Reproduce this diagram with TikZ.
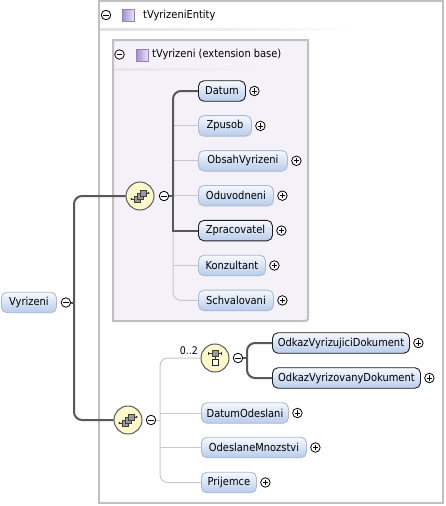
\documentclass[tikz,border=0pt]{standalone}
\usepackage{fontspec}
\setmainfont{DejaVu Sans Condensed}
\definecolor{bordergray}{RGB}{192,192,192}
\definecolor{lavender}{RGB}{244,242,248}
\definecolor{elemtop}{RGB}{246,249,254}
\definecolor{elembot}{RGB}{184,204,236}
\definecolor{optborder}{RGB}{172,186,208}
\definecolor{reqborder}{RGB}{30,30,30}
\definecolor{darkline}{RGB}{88,88,88}
\definecolor{lightline}{RGB}{200,200,200}
\definecolor{compfill}{RGB}{253,249,204}
\definecolor{compborder}{RGB}{90,90,90}
\definecolor{purpdark}{RGB}{165,145,208}
\definecolor{purplight}{RGB}{236,231,249}
\definecolor{purpborder}{RGB}{150,128,196}
\begin{document}
\begin{tikzpicture}[x=1pt,y=-1pt,
  every node/.style={font=\fontsize{11}{13}\selectfont},
  elem/.style={rounded corners=5.5pt, top color=elemtop, bottom color=elembot,
    minimum height=20.5pt, inner sep=0pt, anchor=west, line width=0.9pt},
  elemopt/.style={elem, draw=optborder},
  elemreq/.style={elem, draw=reqborder},
  pmcirc/.style={circle, draw=black, fill=white, minimum size=9.5pt, inner sep=0pt, line width=0.8pt},
  pluscirc/.style={pmcirc, path picture={
    \draw[line width=0.8pt] ([xshift=-2.6pt]path picture bounding box.center) -- ([xshift=2.6pt]path picture bounding box.center)
      ([yshift=-2.6pt]path picture bounding box.center) -- ([yshift=2.6pt]path picture bounding box.center);}},
  minuscirc/.style={pmcirc, path picture={
    \draw[line width=0.8pt] ([xshift=-2.6pt]path picture bounding box.center) -- ([xshift=2.6pt]path picture bounding box.center);}},
  compo/.style={circle, draw=compborder, fill=compfill, minimum size=28pt, inner sep=0pt, line width=1pt},
  dline/.style={draw=darkline, line width=2pt},
  lline/.style={draw=lightline, line width=1pt},
  typesq/.style={left color=purpdark, right color=purplight, draw=purpborder, line width=0.6pt},
  hdr/.style={anchor=west, inner sep=0pt},
  iconsq/.style={fill=black!40, draw=black!75, line width=0.6pt}
]
\useasboundingbox (0,0) rectangle (446,506);

% outer box
\draw[bordergray, line width=2pt, fill=white] (99,1) rectangle (443,503);
\shade[left color=black!12, right color=white] (100,28.5) rectangle (360,30);
\node[minuscirc] (mo) at (106,15) {};
\shade[typesq] (122.5,9) rectangle (134.5,21);
\node[hdr] (ho) at (143,15) {tVyrizeniEntity};

% inner box
\draw[bordergray, line width=2pt, fill=lavender] (113,40) -- (308,40) -- (308,315)
   .. controls (308,321) .. (302,321) -- (113,321) -- cycle;
\shade[left color=black!10, right color=lavender] (114,68.5) rectangle (263,70);
\node[minuscirc] (mi) at (119.5,54.5) {};
\shade[typesq] (136.5,49) rectangle (148.5,61);
\node[hdr] (hi) at (152,54.5) {tVyrizeni (extension base)};

% root element
\node[elemopt, minimum width=55pt] (vyr) at (1,302.5) {Vyrizeni};
\node[minuscirc] (m0) at ([xshift=9pt]vyr.east) {};
\coordinate (j0) at (74,302.5);

% compositors
\node[compo] (c1) at (140,196) {};
\node[minuscirc] (m1) at (164,196) {};
\coordinate (j1) at (173,196);
\node[compo] (c2) at (128,420) {};
\node[minuscirc] (m2) at (151,420) {};
\coordinate (j2) at (160,420);
\node[compo] (c3) at (215,358) {};
\node[minuscirc] (m3) at (238,358) {};
\coordinate (j3) at (247,358);
\node[anchor=east, inner sep=0pt, font=\fontsize{10.5}{12}\selectfont] (card) at (198,351) {0..2};

% sequence icons
\foreach \c in {c1,c2}{
\begin{scope}[shift={(\c.center)}]
  \draw[line width=0.8pt, black!80] (-8.5,3) -- (-3,3);
  \fill[black!80] (-8.5,3) circle (1.1);
  \draw[line width=0.8pt, black!80] (3,-3) -- (8.5,-3);
  \fill[black!80] (8.5,-3) circle (1.1);
  \filldraw[iconsq] (-6,0) rectangle (0,6);
  \filldraw[iconsq] (-3,-3) rectangle (3,3);
  \filldraw[iconsq] (0,-6) rectangle (6,0);
\end{scope}}
% choice icon
\begin{scope}[shift={(c3.center)}]
  \draw[line width=0.8pt, black!80] (-6.5,-4.5) -- (6.5,-4.5);
  \draw[line width=0.8pt, black!80] (-6.5,-6) -- (-6.5,-3) (6.5,-6) -- (6.5,-3);
  \filldraw[iconsq] (-2.8,-7.3) rectangle (2.8,-1.7);
  \draw[line width=0.8pt, black!80] (0,-1.7) -- (0,1.5);
  \filldraw[fill=white, draw=black!85, line width=0.8pt] (-3,1.5) rectangle (3,7.5);
\end{scope}

% inner elements
\node[elemreq, minimum width=47pt] (datum) at (198,91) {Datum};
\node[elemopt, minimum width=53pt] (zpusob) at (198,125.9) {Zpusob};
\node[elemopt, minimum width=89pt] (obsah) at (198,160.8) {ObsahVyrizeni};
\node[elemopt, minimum width=75pt] (oduv) at (198,195.7) {Oduvodneni};
\node[elemreq, minimum width=74pt] (zprac) at (198,230.6) {Zpracovatel};
\node[elemopt, minimum width=67pt] (konz) at (198,265.5) {Konzultant};
\node[elemopt, minimum width=75pt] (schval) at (198,300.4) {Schvalovani};

% choice elements
\node[elemreq, minimum width=137pt] (odk1) at (272,343) {OdkazVyrizujiciDokument};
\node[elemreq, minimum width=148pt] (odk2) at (272,378) {OdkazVyrizovanyDokument};

% second sequence elements
\node[elemopt, minimum width=87pt] (datodes) at (201,413) {DatumOdeslani};
\node[elemopt, minimum width=105pt] (odesl) at (201,447.5) {OdeslaneMnozstvi};
\node[elemopt, minimum width=55pt] (prij) at (201,482.5) {Prijemce};

% plus circles
\foreach \n in {datum,zpusob,obsah,oduv,zprac,konz,schval,odk1,odk2,datodes,odesl,prij}{
  \node[pluscirc] (p\n) at ([xshift=8.5pt]\n.east) {};
}

% connectors: root
\draw[dline] (m0.east) -- (j0);
\draw[dline, rounded corners=8pt] (c1.west) -| (j0) |- (c2.west);

% connectors: sequence 1
\draw[dline] (m1.east) -- (j1);
\draw[lline] (zpusob.west) -- (zpusob.west -| j1);
\draw[lline] (obsah.west) -- (obsah.west -| j1);
\draw[lline] (oduv.west) -- (oduv.west -| j1);
\draw[lline] (konz.west) -- (konz.west -| j1);
\draw[lline, rounded corners=8pt] (zprac.west -| j1) |- (schval.west);
\draw[dline, rounded corners=8pt] (datum.west) -| (j1);
\draw[dline] (j1) |- (zprac.west);

% connectors: sequence 2
\draw[lline] (m2.east) -- (j2);
\draw[lline, rounded corners=8pt] (c3.west) -| (j2) |- (prij.west);
\draw[lline] (datodes.west) -- (datodes.west -| j2);
\draw[lline] (odesl.west) -- (odesl.west -| j2);

% connectors: choice
\draw[dline] (m3.east) -- (j3);
\draw[dline, rounded corners=8pt] (odk1.west) -| (j3) |- (odk2.west);
\end{tikzpicture}
\end{document}
